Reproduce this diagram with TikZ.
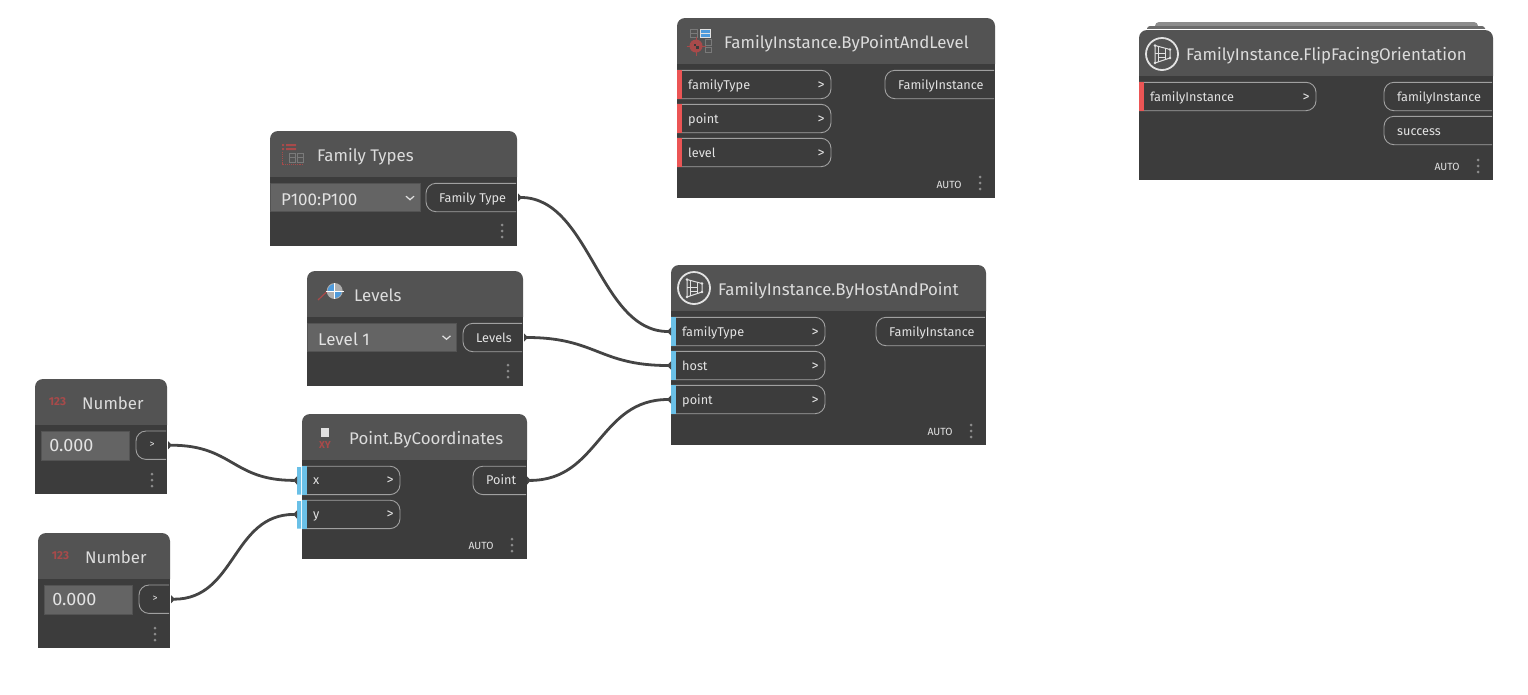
\documentclass[tikz,border=0pt]{standalone}
\usepackage{fontspec}
\setmainfont{Fira Sans}
\usepackage{xcolor}
\usetikzlibrary{arrows.meta}
\definecolor{bodyd}{HTML}{3C3C3C}
\definecolor{headd}{HTML}{535353}
\definecolor{textd}{HTML}{E2E2E2}
\definecolor{titled}{HTML}{DCDCDC}
\definecolor{lined}{HTML}{A0A0A0}
\definecolor{inputd}{HTML}{646464}
\definecolor{wired}{HTML}{444444}
\definecolor{dotd}{HTML}{8C8C8C}
\definecolor{redbar}{HTML}{EB5555}
\definecolor{bluebar}{HTML}{6AC0E7}
\definecolor{iconred}{HTML}{A84A4A}
\definecolor{icongray}{HTML}{7A7A7A}
\definecolor{iconblue}{HTML}{4F9BDC}
\tikzset{
	dynhead/.style={fill=headd},
	dynbody/.style={fill=bodyd,inner sep=0pt,outer sep=0pt,anchor=north west},
	dyntitle/.style={text=titled,font=\fontsize{16.85}{17}\selectfont,inner sep=0pt,anchor=base west},
	portbox/.style={inner sep=0pt,outer sep=0pt,minimum height=28.4pt,anchor=north west},
	portline/.style={draw=lined,line width=0.9pt,rounded corners=10pt},
	portlabel/.style={text=textd,font=\fontsize{12.7}{13}\selectfont,inner sep=0pt},
	autolabel/.style={text=textd,font=\fontsize{10.4}{10}\selectfont,inner sep=0pt},
	dropbox/.style={fill=inputd,draw=headd,line width=0.8pt,inner sep=0pt,outer sep=0pt,minimum height=28pt,anchor=north west},
	droplabel/.style={text=textd,font=\fontsize{17}{17}\selectfont,inner sep=0pt,anchor=base west},
	chevron/.style={draw=textd,line width=1.2pt},
	wire/.style={draw=wired,line width=2.8pt,{Triangle[reversed,length=4pt,width=8pt]}-{Triangle[reversed,length=4pt,width=8pt]}},
	icontext/.style={text=iconred,inner sep=0pt,font=\bfseries\fontsize{11.5}{12}\selectfont}
}
% node frame: name, x, y, w, h, header, title
\newcommand{\dynnode}[7]{%
	\path[dynhead] (#2,{#3+#6}) [rounded corners=8pt] -- (#2,#3) -- ({#2+#4},#3) [sharp corners] -- ({#2+#4},{#3+#6}) -- cycle;
	\node[dynbody,minimum width=#4,minimum height=#5-#6] (#1) at (#2,{#3+#6}) {};
	\node[dyntitle] (#1t) at ({#2+47},{#3+#6/2+7.5}) {#7};
}
\newcommand{\inport}[6]{%
	\node[portbox,minimum width=#4] (#1) at (#2,#3) {};
	\draw[portline] (#1.north west) -- (#1.north east) -- (#1.south east) -- (#1.south west);
	\fill[#5] (#1.north west) rectangle ([xshift=5pt]#1.south west);
	\node[portlabel,anchor=base west] (#1l) at ([xshift=11pt,yshift=-4.5pt]#1.west) {#6};
	\node[portlabel,anchor=base,font=\fontsize{14}{14}\selectfont] (#1a) at ([xshift=-10pt,yshift=-4.5pt]#1.east) {>};
}
\newcommand{\outport}[5]{%
	\node[portbox,minimum width=#4] (#1) at (#2,#3) {};
	\draw[portline] (#1.north east) -- (#1.north west) -- (#1.south west) -- (#1.south east);
	\node[portlabel,anchor=base west] (#1l) at ([xshift=13pt,yshift=-4.5pt]#1.west) {#5};
}
\newcommand{\dropdown}[5]{%
	\node[dropbox,minimum width=#4] (#1) at (#2,#3) {};
	\node[droplabel] (#1l) at ([xshift=11pt,yshift=-8pt]#1.west) {#5};
	\draw[chevron] ([xshift=-14pt,yshift=1.5pt]#1.east) -- ([xshift=-10pt,yshift=-2pt]#1.east) -- ([xshift=-6pt,yshift=1.5pt]#1.east);
}
\newcommand{\dyndots}[2]{%
	\foreach \dy in {-6,0,6} \fill[dotd] (#1,{#2+\dy}) circle (1.5pt);
}
% circle icon of the family instance nodes
\newcommand{\fiicon}[2]{%
	\begin{scope}[shift={(#1,#2)}]
		\draw[textd,line width=1.8pt] (0,0) circle (16pt);
		\draw[textd,line width=1pt] (-7,-8.5) -- (8,-4.5) -- (8,4) -- (-7,9) -- cycle;
		\draw[textd,line width=0.7pt] (-3.5,-7) -- (-3.5,7.5) (3.5,-5.5) -- (3.5,5) (-7,-1) -- (3.5,-1) (-3.5,3) -- (3.5,3);
		\foreach \dx/\dy in {-7/-8.5,8/-4.5,8/4,-7/9} \fill[textd] (\dx,\dy) circle (1.3pt);
	\end{scope}
}
\begin{document}
\begin{tikzpicture}[x=1pt,y=-1pt]
	\useasboundingbox (0,0) rectangle (1528,694);
	%
	\dynnode{ftypes}{270}{131}{247}{115}{46}{Family Types}
	\dropdown{ftDrop}{270}{183.7}{150}{P100:P100}
	\outport{ftOut}{426}{183.3}{90}{Family Type}
	\dyndots{502}{231}
	\fill[iconred] (282,144) rectangle (284,146) (282,148) rectangle (284,150);
	\fill[iconred] (286,144) rectangle (296,146) (286,148) rectangle (296,150);
	\draw[iconred,densely dotted,line width=0.9pt] (282,152) -- (282,164) -- (304,164);
	\draw[icongray,line width=1pt] (289,153) rectangle (295.5,162) (289,157.5) -- (295.5,157.5) (297,153) rectangle (303,162) (297,157.5) -- (303,157.5);
	%
	\dynnode{levels}{307}{271}{216}{115}{46}{Levels}
	\dropdown{lvDrop}{307}{323.3}{149.5}{Level 1}
	\outport{lvOut}{463}{323.3}{59}{Levels}
	\dyndots{508}{371}
	\draw[iconred,line width=1.2pt] (318,300) -- (327,291.5);
	\fill[black!32] (334.7,291) circle (8pt);
	\fill[iconblue] (334.7,291) -- +(180:7pt) arc[start angle=180,end angle=90,radius=7pt] -- cycle;
	\fill[iconblue] (334.7,291) -- +(270:7pt) arc[start angle=270,end angle=360,radius=7pt] -- cycle;
	\draw[white,line width=0.9pt] (326,291) -- (344,291) (334.7,283) -- (334.7,299);
	%
	\dynnode{numA}{35}{379}{132}{115}{46}{Number}
	\node[dropbox,minimum width=87.5,minimum height=29] (numAval) at (41.7,431.5) {};
	\node[droplabel,font=\fontsize{18}{18}\selectfont] (numAvall) at ([xshift=7.5pt,yshift=-5.5pt]numAval.west) {0.000};
	\outport{numAOut}{136}{431}{30}{}
	\node[portlabel,font=\fontsize{10}{10}\selectfont] (numAa) at (152,445) {>};
	\dyndots{152}{480}
	\node[icontext] (numAi) at (57.5,401.5) {123};
	%
	\dynnode{numB}{38}{533}{132}{115}{46}{Number}
	\node[dropbox,minimum width=87.5,minimum height=29] (numBval) at (44.7,585.5) {};
	\node[droplabel,font=\fontsize{18}{18}\selectfont] (numBvall) at ([xshift=7.5pt,yshift=-5.5pt]numBval.west) {0.000};
	\outport{numBOut}{139}{585}{30}{}
	\node[portlabel,font=\fontsize{10}{10}\selectfont] (numBa) at (155,599) {>};
	\dyndots{155}{634}
	\node[icontext] (numBi) at (60.5,555.5) {123};
	%
	\dynnode{ptcoord}{302}{414}{225}{145}{46}{Point.ByCoordinates}
	\inport{ptX}{302}{466.2}{98}{bluebar}{x}
	\inport{ptY}{302}{500.2}{98}{bluebar}{y}
	\outport{ptOut}{473}{466.2}{53}{Point}
	\node[autolabel] (ptAuto) at (481,545.5) {AUTO};
	\dyndots{512}{545}
	\fill[bluebar] (297,467) rectangle (301.2,494.5) (297,501) rectangle (301.2,528.5);
	\fill[textd] (321,428) rectangle (329,437);
	\node[icontext,font=\bfseries\fontsize{10}{10}\selectfont] (ptIcon) at (325,445.5) {XY};
	%
	\dynnode{fiHost}{671}{265}{315}{180}{46}{FamilyInstance.ByHostAndPoint}
	\inport{hostType}{671}{317.3}{154}{bluebar}{familyType}
	\inport{hostHost}{671}{351.3}{154}{bluebar}{host}
	\inport{hostPoint}{671}{385.3}{154}{bluebar}{point}
	\outport{hostOut}{876}{317.3}{109}{FamilyInstance}
	\node[autolabel] (hostAuto) at (940,431.5) {AUTO};
	\dyndots{971}{431}
	\fiicon{694}{288}
	%
	\dynnode{fiLevel}{677}{18}{318}{180}{46}{FamilyInstance.ByPointAndLevel}
	\inport{lvlType}{677}{70.3}{154}{redbar}{familyType}
	\inport{lvlPoint}{677}{104.3}{154}{redbar}{point}
	\inport{lvlLevel}{677}{138.3}{154}{redbar}{level}
	\outport{lvlOut}{885}{70.3}{109}{FamilyInstance}
	\node[autolabel] (lvlAuto) at (949,184.5) {AUTO};
	\dyndots{980}{183}
	\draw[icongray,line width=1pt] (690,29) rectangle (697,37) (690,33) -- (697,33) (705,39.5) rectangle (711,45) (705,47) rectangle (711,52.5);
	\fill[iconblue] (700,29) rectangle (710,37);
	\draw[textd,line width=1pt] (700,29) rectangle (710,37) (700,33) -- (710,33);
	\fill[iconred] (696,46) circle (6.5pt);
	\draw[iconred,line width=1pt] (686.5,46) -- (705.5,46) (696,36.5) -- (696,55.5);
	\fill[bodyd] (693.5,43.5) rectangle (696,46);
	\fill[bodyd] (696,46) rectangle (698.5,48.5);
	%
	\fill[rounded corners=4pt,color=dotd] (1155,22) rectangle (1478,31);
	\fill[rounded corners=3pt,color=black!58] (1147,26) rectangle (1485,31);
	\fill[white] (1139,29) rectangle (1493,30);
	\dynnode{fiFlip}{1139}{30}{354}{150}{46}{FamilyInstance.FlipFacingOrientation}
	\inport{flipIn}{1139}{82.3}{177}{redbar}{familyInstance}
	\outport{flipOut}{1384}{82.3}{108}{familyInstance}
	\outport{flipOk}{1384}{116.3}{108}{success}
	\node[autolabel] (flipAuto) at (1447,167) {AUTO};
	\dyndots{1478}{166}
	\fiicon{1162}{54}
	%
	\draw[wire] ([xshift=2pt]ftOut.east) .. controls +(72,0) and +(-72,0) .. (hostType.west);
	\draw[wire] ([xshift=2pt]lvOut.east) .. controls +(72,0) and +(-72,0) .. (hostHost.west);
	\draw[wire] ([xshift=1pt]ptOut.east) .. controls +(72,0) and +(-72,0) .. (hostPoint.west);
	\draw[wire] ([xshift=2pt]numAOut.east) .. controls +(65,0) and +(-65,0) .. ([xshift=-5pt]ptX.west);
	\draw[wire] ([xshift=2pt]numBOut.east) .. controls +(65,0) and +(-65,0) .. ([xshift=-5pt]ptY.west);
\end{tikzpicture}
\end{document}
